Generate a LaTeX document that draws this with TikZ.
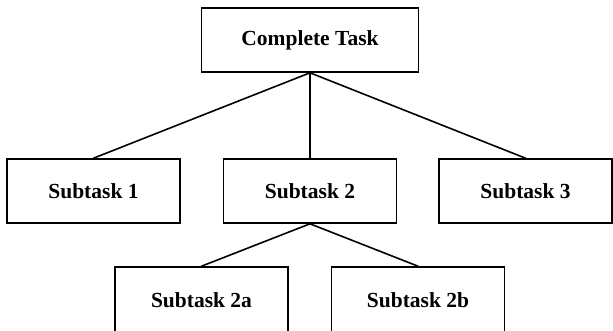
\documentclass[tikz,border=0pt]{standalone}
\usepackage{fontspec}
\setmainfont{Liberation Serif}
\begin{document}
\begin{tikzpicture}[x=1pt, y=-1pt,
    tache/.style={draw, line width=1.6pt, inner sep=0pt, minimum width=173pt, minimum height=64pt,
        font=\fontsize{21.5}{25}\selectfont\bfseries},
    lien/.style={line width=1.6pt}]
            % Cadre
            \useasboundingbox (0,0) rectangle (613,331);

            % Tâche complète
            \node[tache, minimum width=217pt] (complete) at (310,40) {Complete Task};

            % Sous-tâches
            \node[tache] (sub1) at (93.5,191) {Subtask 1};
            \node[tache] (sub2) at (310,191) {Subtask 2};
            \node[tache] (sub3) at (525.5,191) {Subtask 3};

            % Sous-tâches de Subtask 2
            \node[tache, minimum height=66pt] (sub2a) at (201.5,300) {Subtask 2a};
            \node[tache, minimum height=66pt] (sub2b) at (418,300) {Subtask 2b};

            % Liens
            \draw[lien] (complete.south) -- (sub1.north);
            \draw[lien] (complete.south) -- (sub2.north);
            \draw[lien] (complete.south) -- (sub3.north);
            \draw[lien] (sub2.south) -- (sub2a.north);
            \draw[lien] (sub2.south) -- (sub2b.north);
        \end{tikzpicture}
\end{document}
